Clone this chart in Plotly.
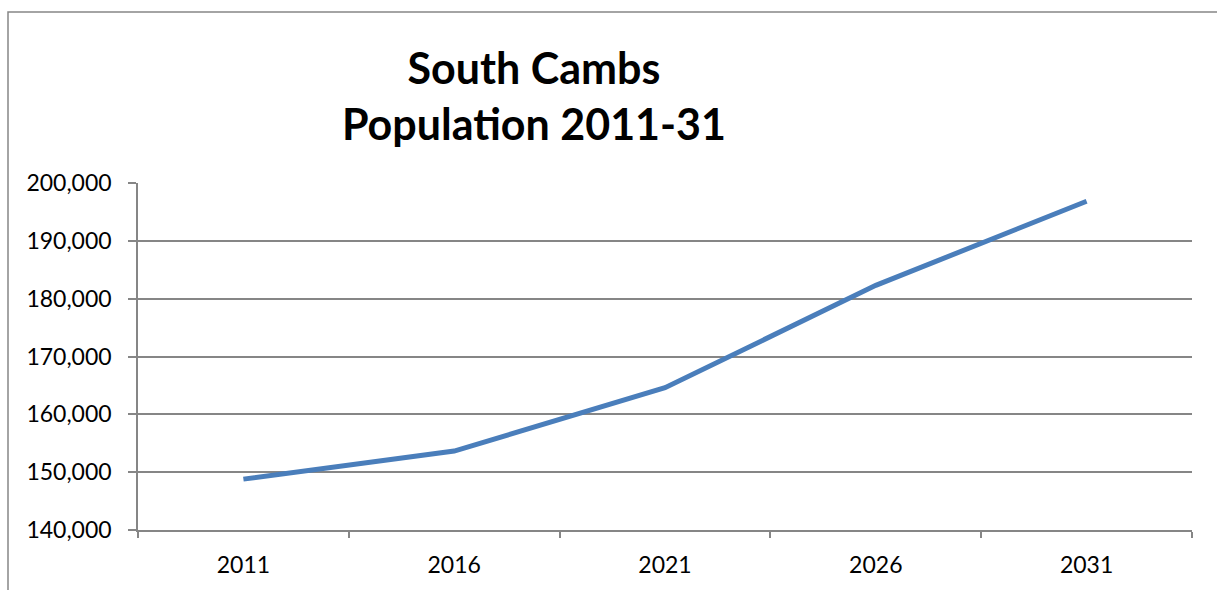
import plotly.graph_objects as go

years = ["2011", "2016", "2021", "2026", "2031"]
population = [148800, 153650, 164600, 182300, 196850]

y_tickvals = [140000, 150000, 160000, 170000, 180000, 190000, 200000]
y_ticktext = ["140,000", "150,000", "160,000", "170,000", "180,000", "190,000", "200,000"]

title_lines = ["South Cambs", "Population 2011-31"]

fig = go.Figure()
fig.add_trace(go.Scatter(
    x=years, y=population, mode="lines",
    line=dict(color="#4a7ebb", width=5),
    hoverinfo="skip",
))

gray = "#868686"
font_family = "Lato, 'Open Sans', sans-serif"

fig.update_layout(
    width=1217, height=590,
    margin=dict(l=138, r=25, t=183, b=60),
    paper_bgcolor="white", plot_bgcolor="white",
    showlegend=False,
    font=dict(family=font_family, color="black", size=23),
    xaxis=dict(
        type="category", tickson="boundaries", ticks="outside", ticklen=6,
        range=[-0.5, len(years) - 0.5],
        tickcolor=gray, tickwidth=1.5,
        showline=True, linecolor=gray, linewidth=1.5,
        showgrid=False, zeroline=False,
        tickfont=dict(size=23), ticklabelstandoff=14,
    ),
    yaxis=dict(
        range=[140000, 200000], tickvals=y_tickvals, ticktext=y_ticktext,
        ticks="outside", ticklen=8, tickcolor=gray, tickwidth=1.5,
        showline=True, linecolor=gray, linewidth=1.5,
        showgrid=True, gridcolor=gray, gridwidth=1.5,
        zeroline=False, tickfont=dict(size=23), ticklabelstandoff=12,
    ),
    annotations=[dict(
        text="<b>" + "<br>".join(title_lines) + "</b>",
        xref="paper", yref="paper", x=(534 - 138) / 1054, y=(530 - 95) / 347,
        xanchor="center", yanchor="middle", showarrow=False,
        font=dict(size=43, family=font_family, color="black"),
        align="center",
    )],
    shapes=[dict(
        type="rect", xref="paper", yref="paper",
        x0=(8 - 138) / 1054, x1=1.2, y0=-0.5, y1=(530 - 12) / 347,
        line=dict(color=gray, width=1.5), fillcolor="rgba(0,0,0,0)", layer="below",
    )],
)

fig.write_html("out.html")
